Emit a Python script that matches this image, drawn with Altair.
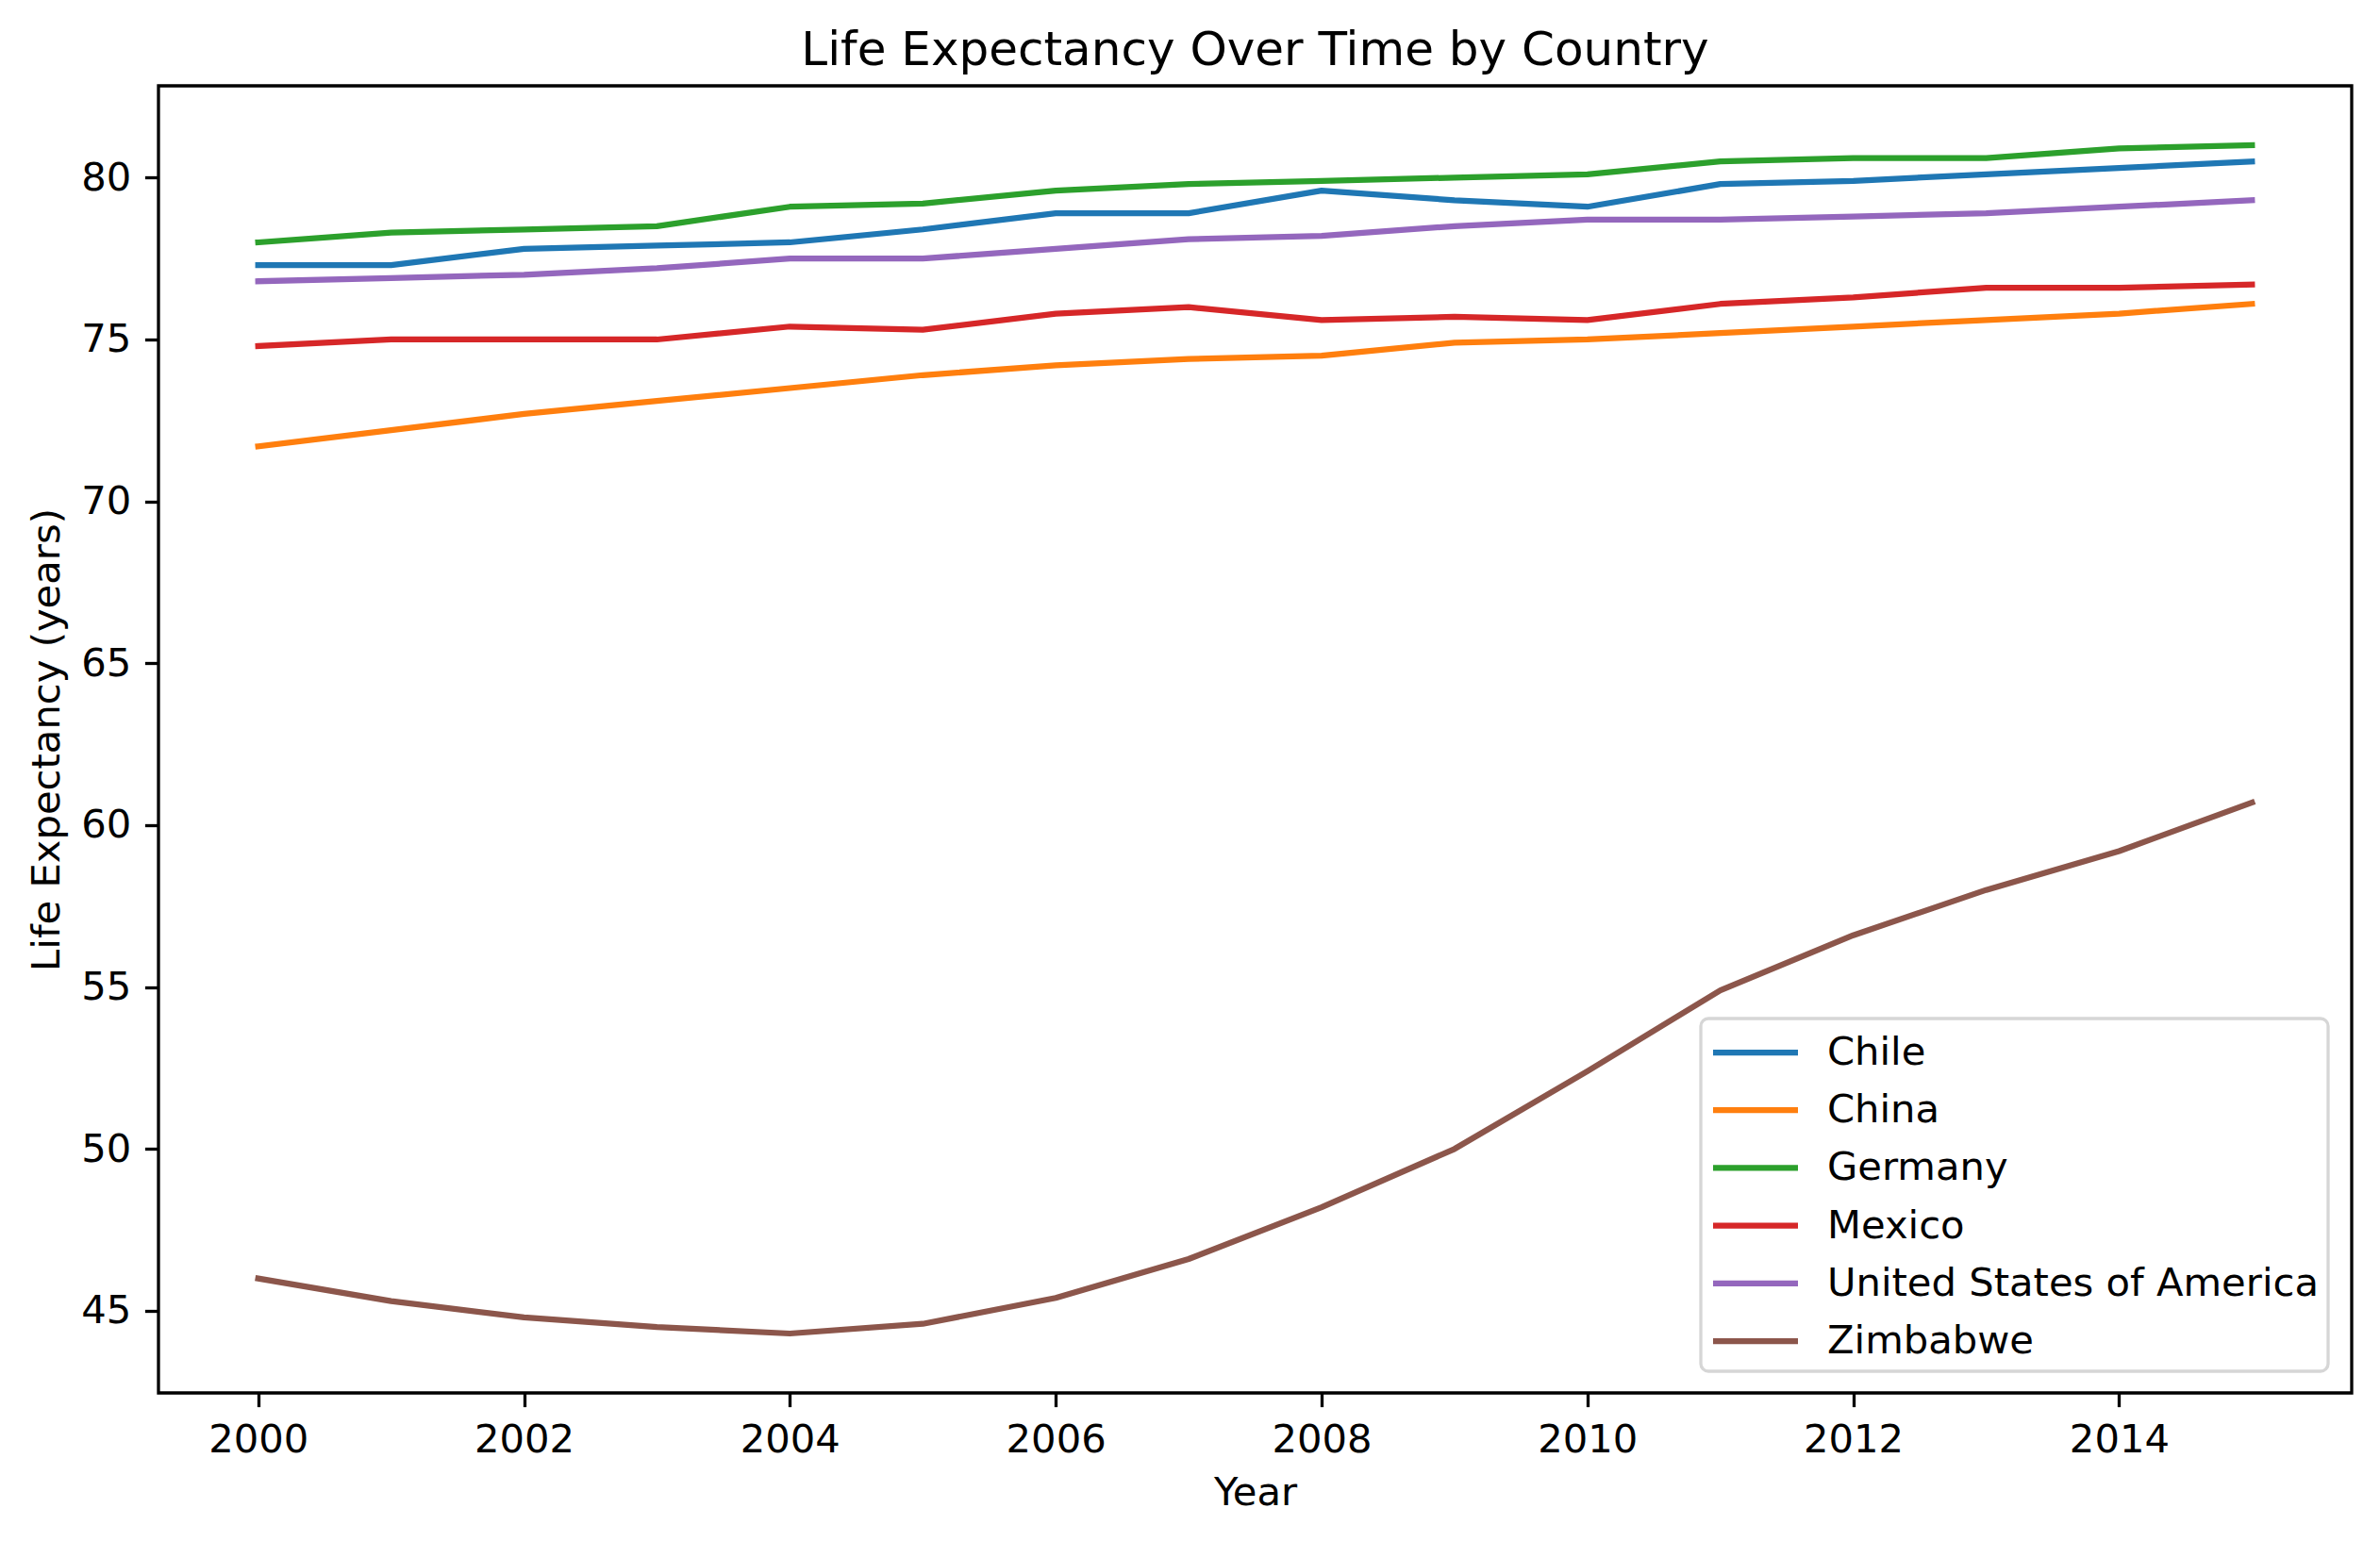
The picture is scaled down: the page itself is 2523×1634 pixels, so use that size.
import altair as alt
import pandas as pd

years = [2000, 2001, 2002, 2003, 2004, 2005, 2006, 2007,
         2008, 2009, 2010, 2011, 2012, 2013, 2014, 2015]
countries = ["Chile", "China", "Germany", "Mexico",
             "United States of America", "Zimbabwe"]

chile = [77.3, 77.3, 77.8, 77.9, 78.0, 78.4, 78.9, 78.9,
         79.6, 79.3, 79.1, 79.8, 79.9, 80.1, 80.3, 80.5]
china = [71.7, 72.2, 72.7, 73.1, 73.5, 73.9, 74.2, 74.4,
         74.5, 74.9, 75.0, 75.2, 75.4, 75.6, 75.8, 76.1]
germany = [78.0, 78.3, 78.4, 78.5, 79.1, 79.2, 79.6, 79.8,
           79.9, 80.0, 80.1, 80.5, 80.6, 80.6, 80.9, 81.0]
mexico = [74.8, 75.0, 75.0, 75.0, 75.4, 75.3, 75.8, 76.0,
          75.6, 75.7, 75.6, 76.1, 76.3, 76.6, 76.6, 76.7]
usa = [76.8, 76.9, 77.0, 77.2, 77.5, 77.5, 77.8, 78.1,
       78.2, 78.5, 78.7, 78.7, 78.8, 78.9, 79.1, 79.3]
zimbabwe = [46.0, 45.3, 44.8, 44.5, 44.3, 44.6, 45.4, 46.6,
            48.2, 50.0, 52.4, 54.9, 56.6, 58.0, 59.2, 60.7]

colors = ["#1f77b4", "#ff7f0e", "#2ca02c", "#d62728", "#9467bd", "#8c564b"]
x_ticks = [2000, 2002, 2004, 2006, 2008, 2010, 2012, 2014]
y_ticks = [45, 50, 55, 60, 65, 70, 75, 80]

series = [chile, china, germany, mexico, usa, zimbabwe]
rows = []
for name, vals in zip(countries, series):
    for yr, v in zip(years, vals):
        rows.append({"Country": name, "Year": yr, "Life": v})
df = pd.DataFrame(rows)

FONT = "DejaVu Sans"

chart = alt.Chart(df).mark_line(
    strokeWidth=6.25, strokeCap="square", strokeJoin="round"
).encode(
    x=alt.X("Year:Q",
            scale=alt.Scale(domain=[1999.25, 2015.75], nice=False, zero=False),
            axis=alt.Axis(values=x_ticks, format="d", title="Year",
                          titlePadding=15, labelPadding=14.6)),
    y=alt.Y("Life:Q",
            scale=alt.Scale(domain=[42.465, 82.835], nice=False, zero=False),
            axis=alt.Axis(values=y_ticks, title="Life Expectancy (years)",
                          titlePadding=14, labelPadding=14.6)),
    color=alt.Color("Country:N",
                    scale=alt.Scale(domain=countries, range=colors),
                    legend=alt.Legend(title=None, orient="none",
                                      legendX=1635, legendY=989)),
).properties(
    width=2325,
    height=1386,
    padding={"left": 168, "top": 91, "right": 30, "bottom": 157},
    autosize=alt.AutoSizeParams(type="none"),
    title=alt.TitleParams(
        text="Life Expectancy Over Time by Country",
        font=FONT, fontSize=50, fontWeight="normal", color="black",
        anchor="middle", frame="group", baseline="alphabetic", offset=-28,
    ),
).configure_view(
    stroke="black", strokeWidth=3.3
).configure_axis(
    domain=False, grid=False,
    ticks=True, tickColor="black", tickWidth=3.3, tickSize=14.6,
    labelFont=FONT, labelFontSize=41.7, labelColor="black",
    titleFont=FONT, titleFontSize=41.7, titleFontWeight="normal",
    titleColor="black", labelOverlap=False,
).configure_legend(
    labelFont=FONT, labelFontSize=41.7, labelColor="black", labelLimit=1000,
    symbolType="M-2,0L2,0", symbolSize=2025, symbolStrokeWidth=6.25,
    symbolOffset=22, labelOffset=50, rowPadding=13.2, padding=10,
    strokeColor="#d6d6d6", strokeWidth=3.3, cornerRadius=8,
    fillColor="rgba(255,255,255,0.8)",
)

chart.save("out.html", embed_options={"renderer": "svg", "actions": False})
